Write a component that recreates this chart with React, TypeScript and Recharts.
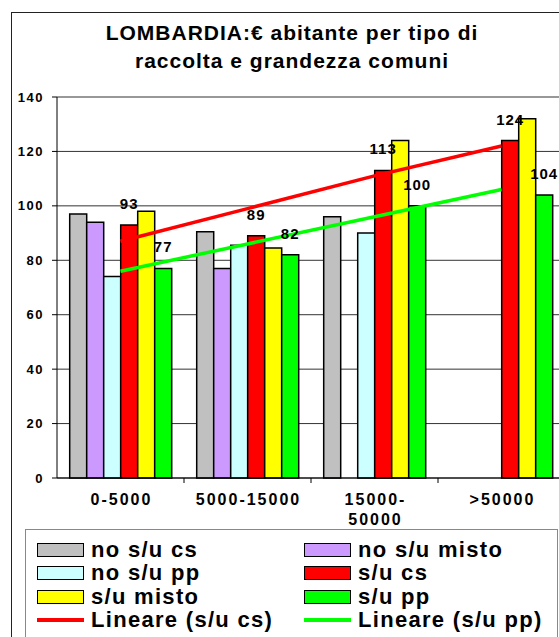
import { ComposedChart, Bar, Line, XAxis, YAxis, CartesianGrid, LabelList, ReferenceLine } from 'recharts';

const categories = ['0-5000', '5000-15000', '15000-50000', '>50000'];

// valori delle barre (€ per abitante)
const noSuCs = [97, 90.5, 96, null];
const noSuMisto = [94, 77, null, null];
const noSuPp = [74, 85.5, 90, null];
const suCs = [93, 89, 113, 124];
const suMisto = [98, 84.5, 124, 132];
const suPp = [77, 82, 100, 104];

// linee di tendenza
const trendCs = [87, 99, 111, 122];
const trendPp = [76, 86, 96, 106];

const barNames = ['no s/u cs', 'no s/u misto', 'no s/u pp', 's/u cs', 's/u misto', 's/u pp'];
const barColors = ['#C0C0C0', '#CC99FF', '#CCFFFF', '#FF0000', '#FFFF00', '#00FF00'];
const barValues = [noSuCs, noSuMisto, noSuPp, suCs, suMisto, suPp];
const trendNames = ['Lineare (s/u cs)', 'Lineare (s/u pp)'];
const trendColors = ['#FF0000', '#00FF00'];

const yTicks = [0, 20, 40, 60, 80, 100, 120, 140];

const FONT = '"Liberation Sans", Arial, sans-serif';

const data = categories.map((cat, i) => {
  const row: Record<string, string | number | null> = { cat };
  barValues.forEach((vals, k) => {
    row['b' + k] = vals[i];
  });
  row.t0 = trendCs[i];
  row.t1 = trendPp[i];
  return row;
});

function CatTick(props: any) {
  const { x, y, payload, index, visibleTicksCount, width } = props;
  const label: string = String(payload.value);
  const half = payload.offset || width / (visibleTicksCount * 2);
  const cut = label.indexOf('-') + 1;
  const lines = label.length > 10 ? [label.slice(0, cut), label.slice(cut)] : [label];
  return (
    <g>
      {index < visibleTicksCount - 1 && (
        <line x1={x + half} x2={x + half} y1={y} y2={y + 5} stroke="#000" />
      )}
      {lines.map((l, i) => (
        <text
          key={i}
          x={x + 1}
          y={y + 27 + i * 20}
          textAnchor="middle"
          fill="#000"
          style={{ fontFamily: FONT, fontSize: 16, fontWeight: 'bold', letterSpacing: 2 }}
        >
          {l}
        </text>
      ))}
    </g>
  );
}

const labelStyle = { fontFamily: FONT, fontSize: 15, fontWeight: 'bold', letterSpacing: 1 };

export default function App() {
  const legendItems = [
    ...barNames.map((n, i) => ({ name: n, color: barColors[i], line: false })),
    ...trendNames.map((n, i) => ({ name: n, color: trendColors[i], line: true })),
  ];

  return (
    <div
      style={{
        position: 'fixed',
        left: 0,
        top: 0,
        width: 559,
        height: 637,
        overflow: 'hidden',
        background: '#fff',
        fontFamily: FONT,
      }}
    >
      <div
        style={{
          position: 'absolute',
          left: 11,
          top: 12,
          width: 700,
          height: 700,
          borderLeft: '1px solid #222',
          borderTop: '1px solid #222',
        }}
      />
      <div
        style={{
          position: 'absolute',
          left: 0,
          top: 19,
          width: 584,
          textAlign: 'center',
          fontSize: 21,
          fontWeight: 'bold',
          lineHeight: '28px',
          letterSpacing: 1,
        }}
      >
        <div>LOMBARDIA:€ abitante per tipo di</div>
        <div>raccolta e grandezza comuni</div>
      </div>

      <div style={{ position: 'absolute', left: 0, top: 0 }}>
        <ComposedChart
          width={580}
          height={637}
          data={data}
          margin={{ top: 97, right: 15, left: 10, bottom: 129 }}
          barCategoryGap="10%"
          barGap={0}
        >
          <CartesianGrid vertical={false} stroke="#333" />
          <ReferenceLine y={140} stroke="#999" strokeWidth={1.5} />
          <XAxis
            dataKey="cat"
            interval={0}
            tickLine={false}
            tickSize={0}
            tickMargin={0}
            height={30}
            axisLine={{ stroke: '#000' }}
            tick={<CatTick />}
          />
          <YAxis
            domain={[0, 140]}
            ticks={yTicks}
            width={47}
            tickSize={5}
            tickMargin={8}
            axisLine={{ stroke: '#000' }}
            tickLine={{ stroke: '#000' }}
            tick={{ fill: '#000', fontSize: 13, fontWeight: 'bold', fontFamily: FONT, letterSpacing: 1.5 } as any}
          />
          {barNames.map((n, k) => (
            <Bar
              key={n}
              dataKey={'b' + k}
              name={n}
              fill={barColors[k]}
              stroke="#000"
              strokeWidth={1.5}
              isAnimationActive={false}
            >
              {(k === 3 || k === 5) && (
                <LabelList position="top" offset={16} fill="#000" style={labelStyle} />
              )}
            </Bar>
          ))}
          {trendNames.map((n, k) => (
            <Line
              key={n}
              dataKey={'t' + k}
              name={n}
              type="linear"
              stroke={trendColors[k]}
              strokeWidth={3.5}
              dot={false}
              activeDot={false}
              isAnimationActive={false}
            />
          ))}
        </ComposedChart>
      </div>

      <div
        style={{
          position: 'absolute',
          left: 25,
          top: 529,
          width: 533,
          height: 140,
          border: '1px solid #888',
          boxSizing: 'border-box',
        }}
      />
      {legendItems.map((it, i) => {
        const col = i % 2;
        const row = Math.floor(i / 2);
        const left = col === 0 ? 37 : 304;
        const cy = 550 + row * 23.3;
        return (
          <div
            key={it.name}
            style={{
              position: 'absolute',
              left,
              top: cy - 11,
              height: 22,
              display: 'flex',
              alignItems: 'center',
              whiteSpace: 'nowrap',
            }}
          >
            {it.line ? (
              <div style={{ width: 47, height: 3.5, background: it.color }} />
            ) : (
              <div
                style={{
                  width: 47,
                  height: 14,
                  background: it.color,
                  border: '1.5px solid #000',
                  boxSizing: 'border-box',
                }}
              />
            )}
            <span
              style={{
                marginLeft: 7,
                fontSize: 22,
                fontWeight: 'bold',
                letterSpacing: 1.3,
                lineHeight: '22px',
                position: 'relative',
                top: 0,
              }}
            >
              {it.name}
            </span>
          </div>
        );
      })}
    </div>
  );
}
